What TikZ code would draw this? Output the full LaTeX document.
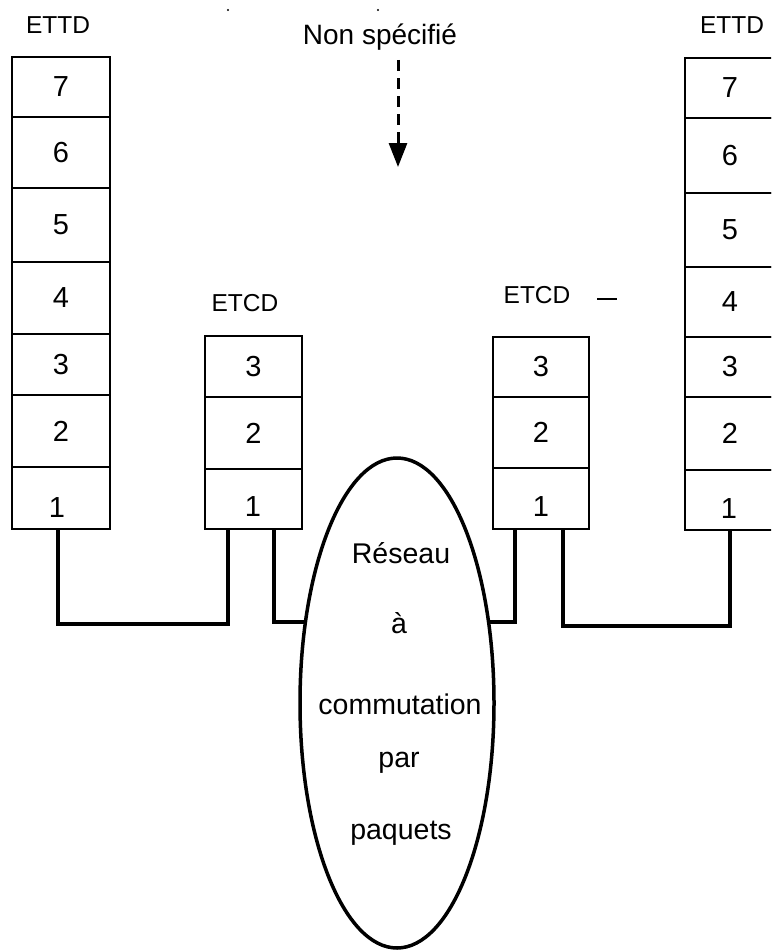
\documentclass[tikz,border=0pt]{standalone}
\usepackage{fontspec}
\setmainfont{Liberation Sans}
\usetikzlibrary{shapes.geometric,arrows.meta}
\begin{document}
\begin{tikzpicture}[x=1pt,y=-1pt,
  layer/.style={draw,line width=2.2pt,rectangle,inner sep=0pt,font=\fontsize{29}{32}\selectfont},
  lbl/.style={inner sep=0pt,font=\fontsize{24.5}{28}\selectfont},
  nettxt/.style={inner sep=0pt,font=\fontsize{28.5}{32}\selectfont},
  conn/.style={line width=4.5pt,line cap=butt,line join=miter}]
\useasboundingbox (0,0) rectangle (771,950);
\begin{scope}
\clip (0,0) rectangle (771,950);
% left ETTD
\node[lbl] (ettdLlab) at (58,25) {ETTD};
\node[layer,minimum width=98pt,minimum height=60pt] (ettdL7) at (61,87) {7};
\node[layer,minimum width=98pt,minimum height=71pt] (ettdL6) at (61,152.5) {6};
\node[layer,minimum width=98pt,minimum height=74pt] (ettdL5) at (61,225) {5};
\node[layer,minimum width=98pt,minimum height=72pt] (ettdL4) at (61,298) {4};
\node[layer,minimum width=98pt,minimum height=61pt] (ettdL3) at (61,364.5) {3};
\node[layer,minimum width=98pt,minimum height=72pt] (ettdL2) at (61,431) {2};
\node[layer,minimum width=98pt,minimum height=62pt] (ettdL1) at (61,498) {};
\node[inner sep=0pt,font=\fontsize{29}{32}\selectfont] (ettdL1t) at (57,508) {1};
% right ETTD
\node[lbl] (ettdRlab) at (732,25) {ETTD};
\node[layer,minimum width=90pt,minimum height=60pt] (ettdR7) at (730,88) {7};
\node[layer,minimum width=90pt,minimum height=75pt] (ettdR6) at (730,155.5) {6};
\node[layer,minimum width=90pt,minimum height=74pt] (ettdR5) at (730,230) {5};
\node[layer,minimum width=90pt,minimum height=70pt] (ettdR4) at (730,302) {4};
\node[layer,minimum width=90pt,minimum height=60pt] (ettdR3) at (730,367) {3};
\node[layer,minimum width=90pt,minimum height=73pt] (ettdR2) at (730,433.5) {2};
\node[layer,minimum width=90pt,minimum height=60pt] (ettdR1) at (730,500) {};
\node[inner sep=0pt,font=\fontsize{29}{32}\selectfont] (ettdR1t) at (729,509) {1};
% left ETCD
\node[lbl] (etcdLlab) at (245,303) {ETCD};
\node[layer,minimum width=97pt,minimum height=61pt] (etcdL3) at (253.5,366.5) {3};
\node[layer,minimum width=97pt,minimum height=72pt] (etcdL2) at (253.5,433) {2};
\node[layer,minimum width=97pt,minimum height=60pt] (etcdL1) at (253.5,499) {};
\node[inner sep=0pt,font=\fontsize{29}{32}\selectfont] (etcdL1t) at (253,507) {1};
% right ETCD
\node[lbl] (etcdRlab) at (537,295) {ETCD};
\node[layer,minimum width=96pt,minimum height=60pt] (etcdR3) at (541,367) {3};
\node[layer,minimum width=96pt,minimum height=71pt] (etcdR2) at (541,432.5) {2};
\node[layer,minimum width=96pt,minimum height=61pt] (etcdR1) at (541,498.5) {};
\node[inner sep=0pt,font=\fontsize{29}{32}\selectfont] (etcdR1t) at (541,507) {1};
\coordinate (dashA) at (597,299);
\coordinate (dashB) at (617,299);
\draw[line width=1.3pt] (dashA) -- (dashB);
% network
\node[draw,ellipse,line width=3.5pt,inner sep=0pt,minimum width=194pt,minimum height=490pt] (net) at (397,703) {};
\node[nettxt] (t1) at (401,553) {Réseau};
\node[nettxt] (t2) at (399,623) {à};
\node[nettxt] (t3) at (400,704) {commutation};
\node[nettxt] (t4) at (399,763) {par};
\node[nettxt] (t5) at (401,833) {paquets};
% connectors
\draw[conn] ([xshift=-3pt]ettdL1.south) -- ++(0,94) -| ([xshift=-25.5pt]etcdL1.south);
\draw[conn] ([xshift=20.5pt]etcdL1.south) |- (net.139);
\draw[conn] ([xshift=-26pt]etcdR1.south) |- (net.41);
\draw[conn] ([xshift=22pt]etcdR1.south) -- ++(0,96) -| (ettdR1.south);
% non specifie
\node[inner sep=0pt,font=\fontsize{28}{32}\selectfont] (ns) at (380,37) {Non spécifié};
\coordinate (arrS) at (398,60);
\coordinate (arrE) at (398,167);
\draw[line width=3pt,dash pattern=on 11pt off 7pt,-{Triangle[width=18pt,length=24pt]}] (arrS) -- (arrE);
% specks
\fill (228,10) circle (1.2pt);
\fill (378,10) circle (1.2pt);
\end{scope}
\end{tikzpicture}
\end{document}
